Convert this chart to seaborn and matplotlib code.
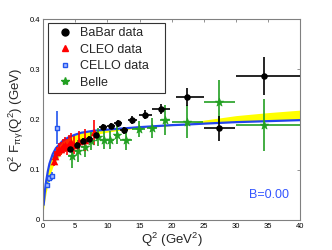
import matplotlib
matplotlib.use("Agg")
import matplotlib.pyplot as plt
import seaborn as sns
import numpy as np
import pandas as pd
from matplotlib.lines import Line2D

# ---------------- data ----------------
babar_q2 = [4.24, 5.21, 6.23, 7.21, 8.17, 9.36, 10.6, 11.6, 12.6, 13.9, 15.9, 18.4, 22.3, 27.4, 34.3]
babar_f = [0.142, 0.150, 0.158, 0.162, 0.169, 0.186, 0.188, 0.193, 0.179, 0.199, 0.210, 0.222, 0.246, 0.183, 0.287]
babar_yerr = [0.005, 0.005, 0.005, 0.005, 0.006, 0.006, 0.006, 0.007, 0.007, 0.008, 0.009, 0.010, 0.018, 0.025, 0.038]
babar_xlo = [0.5, 0.5, 0.5, 0.5, 0.5, 0.6, 0.6, 0.6, 0.6, 0.7, 1.0, 1.4, 1.7, 2.4, 4.3]
babar_xhi = [0.5, 0.5, 0.5, 0.5, 0.5, 0.6, 0.6, 0.6, 0.6, 0.7, 1.0, 1.4, 2.7, 2.4, 5.7]

belle_q2 = [4.46, 5.47, 6.47, 7.47, 8.48, 9.48, 10.48, 11.48, 12.9, 14.9, 16.9, 19.0, 22.3, 27.4, 34.4]
belle_f = [0.128, 0.138, 0.145, 0.158, 0.166, 0.160, 0.160, 0.170, 0.159, 0.181, 0.184, 0.199, 0.196, 0.236, 0.189]
belle_yerr = [0.025, 0.022, 0.020, 0.018, 0.018, 0.018, 0.018, 0.018, 0.020, 0.016, 0.020, 0.030, 0.033, 0.042, 0.052]
belle_xlo = [0.5, 0.5, 0.5, 0.5, 0.5, 0.5, 0.5, 0.5, 0.9, 1.0, 0.8, 0.8, 2.3, 2.4, 4.4]
belle_xhi = [0.5, 0.5, 0.5, 0.5, 0.5, 0.5, 0.5, 0.5, 0.9, 1.0, 0.8, 0.8, 2.5, 2.5, 5.6]

cleo_q2 = [1.64, 1.94, 2.23, 2.54, 2.83, 3.14, 3.44, 3.74, 4.04, 4.34, 4.79, 5.56, 6.58, 7.90]
cleo_f = [0.118, 0.128, 0.135, 0.141, 0.142, 0.147, 0.150, 0.145, 0.152, 0.155, 0.150, 0.157, 0.160, 0.175]
cleo_yerr = [0.010, 0.010, 0.011, 0.012, 0.013, 0.014, 0.015, 0.016, 0.017, 0.018, 0.018, 0.020, 0.022, 0.025]

cello_q2 = [0.55, 0.95, 1.35, 1.85, 2.15]
cello_f = [0.070, 0.083, 0.087, 0.125, 0.184]
cello_yerr = [0.006, 0.007, 0.008, 0.012, 0.033]

theory_q2 = [0.1, 0.3, 0.5, 0.75, 1.0, 1.5, 2.0, 3.0, 4.0, 5.0, 6.0, 8.0, 10, 12, 15, 20, 22, 25, 30, 35, 40]
theory_f = [0.030, 0.058, 0.078, 0.097, 0.112, 0.131, 0.143, 0.157, 0.165, 0.170, 0.174, 0.178, 0.180,
            0.182, 0.185, 0.189, 0.190, 0.192, 0.195, 0.197, 0.199]
band_f = [0.020, 0.040, 0.055, 0.070, 0.085, 0.105, 0.118, 0.135, 0.146, 0.154, 0.160, 0.170, 0.175,
          0.179, 0.183, 0.188, 0.191, 0.199, 0.208, 0.214, 0.219]

x_ticks = [0, 5, 10, 15, 20, 25, 30, 35, 40]
y_ticks = [0, 0.1, 0.2, 0.3, 0.4]
y_ticklabels = ["0", "0.1", "0.2", "0.3", "0.4"]

# ---------------- figure ----------------
sns.set_style("white")
plt.rcParams["font.family"] = ["Liberation Sans", "DejaVu Sans"]
plt.rcParams["mathtext.fontset"] = "custom"
plt.rcParams["mathtext.rm"] = "Liberation Sans"
plt.rcParams["mathtext.it"] = "Liberation Sans:italic"
plt.rcParams["mathtext.default"] = "regular"
fig = plt.figure(figsize=(3.32, 2.5), dpi=100)
ax = fig.add_axes([0.1295, 0.12, 0.7755, 0.803])

theory = pd.DataFrame({"q2": theory_q2, "f": theory_f, "band": band_f})
ax.fill_between(theory["q2"], np.minimum(theory["f"], theory["band"]),
                np.maximum(theory["f"], theory["band"]), color="#ffff00", lw=0, zorder=1)
sns.lineplot(data=theory, x="q2", y="f", ax=ax, color="#2244ee", lw=1.6, zorder=2, legend=False)

ekw = dict(fmt="none", elinewidth=1.2, capsize=0, zorder=3)
ax.errorbar(belle_q2, belle_f, yerr=belle_yerr, xerr=[belle_xlo, belle_xhi], ecolor="#22a022", **ekw)
sns.scatterplot(x=belle_q2, y=belle_f, ax=ax, marker="*", s=40, color="#22a022", edgecolor="#22a022",
                linewidth=0.5, zorder=4, legend=False)

ax.errorbar(cello_q2, cello_f, yerr=cello_yerr, ecolor="#2255ee", **ekw)
sns.scatterplot(x=cello_q2, y=cello_f, ax=ax, marker="s", s=12, color="#aabbff", edgecolor="#2255ee",
                linewidth=1.0, zorder=4, legend=False)

ax.errorbar(cleo_q2, cleo_f, yerr=cleo_yerr, ecolor="#ff0000", **ekw)
sns.scatterplot(x=cleo_q2, y=cleo_f, ax=ax, marker="^", s=30, color="#ff0000", edgecolor="#ff0000",
                linewidth=0, zorder=5, legend=False)

ax.errorbar(babar_q2, babar_f, yerr=babar_yerr, xerr=[babar_xlo, babar_xhi], ecolor="black", **ekw)
sns.scatterplot(x=babar_q2, y=babar_f, ax=ax, marker="o", s=22, color="black", edgecolor="black",
                linewidth=0, zorder=6, legend=False)

ax.set_xlim(0, 40)
ax.set_ylim(0, 0.4)
ax.set_xticks(x_ticks)
ax.set_xticklabels([str(t) for t in x_ticks])
ax.set_yticks(y_ticks)
ax.set_yticklabels(y_ticklabels)
ax.tick_params(direction="in", length=2.5, width=0.6, labelsize=5.5, colors="#808080",
               labelcolor="black", top=True, right=True, pad=2)
for sp in ax.spines.values():
    sp.set_color("#808080")
    sp.set_linewidth(0.8)

ax.set_xlabel(r"Q$^2$ (GeV$^2$)", fontsize=9.5, labelpad=1)
ax.set_ylabel(r"Q$^2$ F$_{\pi\gamma}$(Q$^2$) (GeV)", fontsize=9.5, labelpad=3)

ax.text(0.876, 0.125, "B=0.00", transform=ax.transAxes, color="#3355ff", fontsize=9,
        ha="center", va="center")

handles = [
    Line2D([], [], ls="none", marker="o", ms=5, color="black", mec="black"),
    Line2D([], [], ls="none", marker="^", ms=5, color="#ff0000", mec="#ff0000"),
    Line2D([], [], ls="none", marker="s", ms=3, mfc="#aabbff", mec="#2255ee", mew=1.0),
    Line2D([], [], ls="none", marker="*", ms=6, color="#22a022", mec="#22a022"),
]
labels = ["BaBar data", "CLEO data", "CELLO data", "Belle"]
leg = ax.legend(handles, labels, loc="upper left", bbox_to_anchor=(0.0194, 0.0, 0.454, 0.983),
                mode="expand", fontsize=9,
                frameon=True, fancybox=False, edgecolor="#333333", framealpha=1,
                labelspacing=0.36, handlelength=2.0, handletextpad=0.2, borderpad=0.35,
                borderaxespad=0)
leg.get_frame().set_linewidth(0.8)
leg.set_zorder(10)

fig.savefig("out.png", dpi=100)
